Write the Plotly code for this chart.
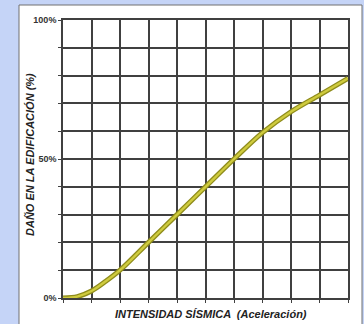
import plotly.graph_objects as go

# Data
intensity = [0, 0.5, 1, 1.5, 2, 3, 4, 5, 6, 7, 8, 9, 10]
damage = [0, 0.5, 2.5, 6, 10, 20, 30, 40, 50, 59.5, 67, 73, 79]
y_tick_vals = [0, 10, 20, 30, 40, 50, 60, 70, 80, 90, 100]
y_tick_text = ["0%", "", "", "", "", "50%", "", "", "", "", "100%"]
x_tick_vals = list(range(0, 11))
x_title = "INTENSIDAD SÍSMICA  (Aceleración)"
y_title = "DAÑO EN LA EDIFICACIÓN (%)"

narrow = "Liberation Sans Narrow, Arial Narrow, Liberation Sans, Arial"

fig = go.Figure()
fig.add_trace(go.Scatter(x=intensity, y=damage, mode="lines",
                         line=dict(color="#8f8c1c", width=5, shape="spline",
                                   smoothing=0.9),
                         hoverinfo="skip", showlegend=False))
fig.add_trace(go.Scatter(x=intensity, y=damage, mode="lines",
                         line=dict(color="#cfcb3e", width=2.4, shape="spline",
                                   smoothing=0.9),
                         showlegend=False))

fig.update_layout(
    width=364, height=324,
    margin=dict(l=63, r=16, t=20, b=26),
    paper_bgcolor="#c5d4f7",
    plot_bgcolor="white",
    shapes=[dict(type="rect", xref="paper", yref="paper", layer="below",
                 x0=-44/285, x1=299/285, y0=-40/278, y1=1 + 15/278,
                 fillcolor="white", line=dict(color="#707070", width=1))],
    xaxis=dict(range=[0, 10], tickvals=x_tick_vals, ticktext=[""] * 11,
               showgrid=True, gridcolor="#404040", gridwidth=1.6,
               showline=True, linecolor="#404040", linewidth=1.6, mirror=True,
               ticks="outside", ticklen=3, tickcolor="#404040", tickwidth=1.4,
               zeroline=False, fixedrange=True),
    yaxis=dict(range=[0, 100], tickvals=y_tick_vals, ticktext=y_tick_text,
               showgrid=True, gridcolor="#404040", gridwidth=1.6,
               showline=True, linecolor="#404040", linewidth=1.6, mirror=True,
               ticks="outside", ticklen=3, tickcolor="#404040", tickwidth=1.4,
               tickfont=dict(family="Liberation Sans, Arial", size=9,
                             color="#333333", weight="bold"),
               zeroline=False, fixedrange=True),
    annotations=[
        dict(text=x_title, xref="paper", yref="paper", x=(211-63)/285,
             y=-(314-298)/278, xanchor="center", yanchor="middle",
             showarrow=False,
             font=dict(family=narrow, size=11, color="#222222",
                       weight="bold", style="italic")),
        dict(text=y_title, xref="paper", yref="paper", x=-(63-30)/285,
             y=(298-155)/278, xanchor="center", yanchor="middle",
             textangle=-90, showarrow=False,
             font=dict(family=narrow, size=11, color="#222222",
                       weight="bold", style="italic")),
    ],
)

fig.write_html("out.html", config={"displayModeBar": False})

# remove the default page margin so the figure sits at the window's corner
with open("out.html", encoding="utf-8") as f:
    html = f.read()
html = html.replace("<head>", "<head><style>body{margin:0;overflow:hidden}</style>", 1)
with open("out.html", "w", encoding="utf-8") as f:
    f.write(html)
